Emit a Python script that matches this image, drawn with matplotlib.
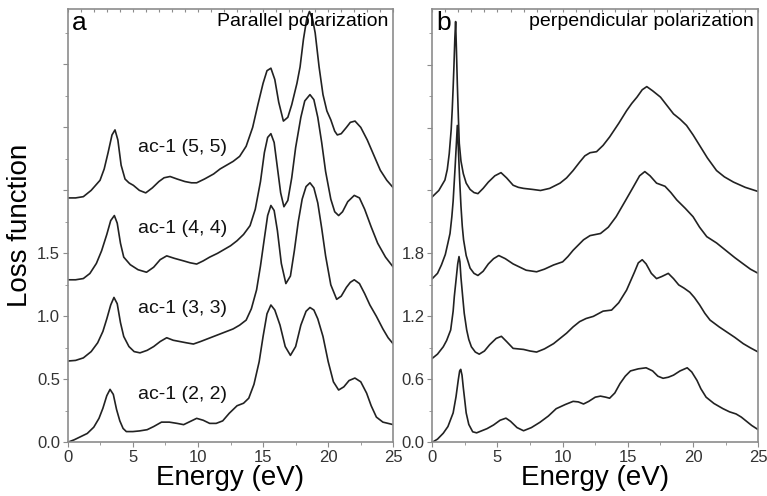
import matplotlib
matplotlib.use("Agg")
import matplotlib.pyplot as plt
from matplotlib.ticker import MultipleLocator, FuncFormatter

plt.rcParams["font.family"] = ["Liberation Sans", "DejaVu Sans"]

# (energy eV, loss function) pairs; curves are already offset
# panel a: parallel polarization
par_22 = [(0, 0.0), (0.5, 0.02), (1.0, 0.045), (1.5, 0.07), (2.0, 0.12), (2.4, 0.19), (2.7, 0.27),
          (3.0, 0.37), (3.25, 0.42), (3.5, 0.38), (3.75, 0.26), (4.0, 0.17), (4.25, 0.11),
          (4.5, 0.085), (5.0, 0.085), (5.5, 0.09), (6.1, 0.10), (6.6, 0.125), (7.2, 0.16),
          (7.8, 0.16), (8.4, 0.15), (8.9, 0.14), (9.4, 0.165), (9.9, 0.19), (10.4, 0.175),
          (10.9, 0.15), (11.4, 0.15), (11.9, 0.17), (12.4, 0.23), (13.0, 0.29), (13.5, 0.31),
          (13.9, 0.35), (14.3, 0.46), (14.7, 0.64), (15.0, 0.84), (15.3, 1.02), (15.6, 1.09),
          (15.9, 1.05), (16.3, 0.93), (16.7, 0.76), (17.1, 0.69), (17.5, 0.76), (17.9, 0.93),
          (18.3, 1.04), (18.6, 1.07), (18.9, 1.05), (19.2, 0.98), (19.6, 0.84), (20.0, 0.64),
          (20.4, 0.48), (20.8, 0.415), (21.2, 0.44), (21.6, 0.49), (22.05, 0.51), (22.5, 0.48),
          (22.95, 0.39), (23.3, 0.29), (23.7, 0.2), (24.2, 0.16), (25, 0.14)]

par_33 = [(0, 0.645), (0.6, 0.65), (1.2, 0.67), (1.8, 0.72), (2.3, 0.79), (2.7, 0.88), (3.0, 0.98),
          (3.3, 1.09), (3.55, 1.15), (3.8, 1.10), (4.05, 0.95), (4.3, 0.84), (4.7, 0.76),
          (5.1, 0.72), (5.55, 0.71), (6.1, 0.73), (6.6, 0.76), (7.1, 0.80), (7.6, 0.83),
          (8.1, 0.81), (8.6, 0.80), (9.1, 0.79), (9.65, 0.78), (10.2, 0.80), (10.7, 0.82),
          (11.2, 0.84), (11.7, 0.86), (12.2, 0.88), (12.7, 0.90), (13.2, 0.93), (13.7, 0.97),
          (14.1, 1.06), (14.5, 1.21), (14.8, 1.40), (15.1, 1.62), (15.35, 1.80), (15.6, 1.88),
          (15.85, 1.84), (16.1, 1.68), (16.4, 1.42), (16.75, 1.26), (17.1, 1.32), (17.4, 1.52),
          (17.7, 1.75), (18.0, 1.93), (18.3, 2.03), (18.6, 2.06), (18.9, 2.02), (19.2, 1.90),
          (19.5, 1.70), (19.8, 1.48), (20.2, 1.25), (20.65, 1.135), (21.0, 1.16), (21.4, 1.23),
          (21.7, 1.27), (22.0, 1.29), (22.4, 1.26), (22.8, 1.18), (23.2, 1.09), (23.7, 1.00),
          (24.2, 0.90), (24.6, 0.83), (25, 0.78)]

par_44 = [(0, 1.29), (0.6, 1.29), (1.2, 1.30), (1.7, 1.34), (2.2, 1.42), (2.6, 1.52), (3.0, 1.65),
          (3.3, 1.76), (3.58, 1.80), (3.8, 1.74), (4.05, 1.58), (4.3, 1.47), (4.8, 1.41),
          (5.4, 1.37), (6.05, 1.35), (6.6, 1.39), (7.1, 1.45), (7.6, 1.48), (8.2, 1.46),
          (8.9, 1.44), (9.4, 1.425), (9.9, 1.415), (10.4, 1.44), (10.9, 1.47), (11.5, 1.50),
          (12.0, 1.53), (12.5, 1.56), (13.0, 1.60), (13.5, 1.65), (14.0, 1.72), (14.4, 1.85),
          (14.8, 2.07), (15.1, 2.30), (15.35, 2.42), (15.6, 2.45), (15.85, 2.38), (16.1, 2.18),
          (16.35, 1.98), (16.6, 1.87), (16.9, 1.92), (17.2, 2.10), (17.5, 2.34), (17.9, 2.58),
          (18.2, 2.71), (18.6, 2.76), (18.9, 2.72), (19.2, 2.58), (19.5, 2.38), (19.8, 2.15),
          (20.2, 1.93), (20.5, 1.83), (20.8, 1.80), (21.1, 1.83), (21.5, 1.91), (22.0, 1.96),
          (22.4, 1.94), (22.8, 1.85), (23.3, 1.71), (23.8, 1.58), (24.4, 1.47), (25, 1.39)]

par_55 = [(0, 1.94), (0.6, 1.94), (1.2, 1.95), (1.8, 2.00), (2.48, 2.08), (2.8, 2.17), (3.1, 2.30),
          (3.4, 2.44), (3.63, 2.48), (3.85, 2.40), (4.1, 2.20), (4.4, 2.09), (4.7, 2.06),
          (5.04, 2.04), (5.5, 2.00), (5.99, 1.98), (6.5, 2.02), (7.0, 2.07), (7.4, 2.10),
          (7.86, 2.11), (8.4, 2.09), (9.0, 2.07), (9.5, 2.06), (9.9, 2.06), (10.5, 2.09),
          (11.2, 2.13), (11.7, 2.17), (12.2, 2.20), (12.7, 2.23), (13.2, 2.27), (13.7, 2.35),
          (14.2, 2.50), (14.6, 2.68), (15.0, 2.85), (15.3, 2.95), (15.6, 2.97), (15.9, 2.88),
          (16.2, 2.70), (16.56, 2.55), (16.9, 2.58), (17.2, 2.68), (17.6, 2.85), (17.84, 2.98),
          (18.1, 3.20), (18.35, 3.36), (18.56, 3.42), (18.8, 3.36), (19.0, 3.25), (19.3, 2.98),
          (19.6, 2.76), (19.9, 2.63), (20.2, 2.56), (20.5, 2.47), (20.7, 2.44), (21.0, 2.45),
          (21.4, 2.50), (21.7, 2.54), (22.06, 2.55), (22.5, 2.50), (23.0, 2.40), (23.5, 2.28),
          (24.0, 2.16), (24.5, 2.08), (25, 2.02)]

# panel b: perpendicular polarization
per_22 = [(0, 0.0), (0.4, 0.03), (0.84, 0.086), (1.2, 0.15), (1.6, 0.28), (1.82, 0.434), (2.0, 0.6),
          (2.1, 0.68), (2.18, 0.695), (2.28, 0.64), (2.38, 0.52), (2.46, 0.434), (2.6, 0.28),
          (2.8, 0.17), (3.1, 0.10), (3.4, 0.09), (3.8, 0.11), (4.2, 0.13), (4.7, 0.165),
          (5.2, 0.21), (5.65, 0.23), (6.0, 0.2), (6.5, 0.14), (7.0, 0.11), (7.6, 0.14),
          (8.25, 0.19), (8.9, 0.25), (9.5, 0.32), (10.2, 0.36), (10.8, 0.39), (11.2, 0.385),
          (11.6, 0.365), (12.0, 0.39), (12.5, 0.43), (12.9, 0.44), (13.3, 0.43), (13.6, 0.42),
          (14.0, 0.47), (14.4, 0.56), (14.8, 0.63), (15.2, 0.68), (15.8, 0.70), (16.4, 0.71),
          (16.9, 0.68), (17.3, 0.63), (17.7, 0.61), (18.1, 0.62), (18.5, 0.64), (19.0, 0.68),
          (19.55, 0.71), (19.9, 0.67), (20.3, 0.59), (20.6, 0.51), (21.0, 0.43), (21.6, 0.37),
          (22.3, 0.32), (22.8, 0.29), (23.3, 0.27), (23.7, 0.24), (24.1, 0.2), (24.5, 0.16),
          (25, 0.12)]

per_33 = [(0, 0.80), (0.4, 0.84), (0.84, 0.91), (1.1, 0.97), (1.41, 1.07), (1.6, 1.25), (1.69, 1.39),
          (1.8, 1.52), (1.95, 1.70), (2.05, 1.77), (2.12, 1.72), (2.2, 1.57), (2.33, 1.39),
          (2.45, 1.23), (2.64, 1.07), (2.8, 0.98), (3.0, 0.91), (3.3, 0.86), (3.6, 0.84),
          (4.0, 0.87), (4.4, 0.93), (4.9, 0.99), (5.3, 1.01), (5.7, 0.96), (6.2, 0.895),
          (7.0, 0.885), (7.5, 0.87), (8.0, 0.86), (8.6, 0.89), (9.3, 0.94), (9.8, 0.99),
          (10.3, 1.04), (10.8, 1.10), (11.3, 1.15), (11.8, 1.18), (12.35, 1.20), (13.1, 1.25),
          (13.75, 1.26), (14.3, 1.33), (14.9, 1.45), (15.5, 1.62), (15.8, 1.71), (16.1, 1.74),
          (16.4, 1.70), (16.8, 1.61), (17.2, 1.56), (17.6, 1.58), (18.1, 1.61), (18.5, 1.56),
          (18.9, 1.50), (19.3, 1.47), (19.75, 1.43), (20.1, 1.38), (20.5, 1.31), (20.9, 1.23),
          (21.3, 1.165), (22.0, 1.10), (22.6, 1.05), (23.2, 1.00), (23.85, 0.94), (24.4, 0.90),
          (25, 0.86)]

per_44 = [(0, 1.56), (0.4, 1.61), (0.7, 1.69), (1.0, 1.79), (1.2, 1.90), (1.36, 1.99), (1.5, 2.15),
          (1.6, 2.3), (1.75, 2.62), (1.85, 2.85), (1.92, 3.02), (2.0, 2.80), (2.1, 2.50),
          (2.2, 2.25), (2.3, 2.06), (2.4, 1.93), (2.6, 1.78), (2.9, 1.66), (3.2, 1.61),
          (3.5, 1.59), (3.9, 1.63), (4.3, 1.70), (4.7, 1.75), (5.1, 1.78), (5.6, 1.75),
          (6.2, 1.70), (7.2, 1.64), (8.0, 1.625), (8.6, 1.65), (9.3, 1.69), (10.0, 1.72),
          (10.4, 1.77), (10.8, 1.83), (11.2, 1.88), (11.6, 1.93), (12.1, 1.97), (12.9, 1.99),
          (13.5, 2.05), (14.1, 2.15), (14.8, 2.30), (15.4, 2.43), (15.9, 2.54), (16.3, 2.58),
          (16.7, 2.54), (17.2, 2.47), (17.85, 2.44), (18.3, 2.38), (18.75, 2.31), (19.4, 2.23),
          (20.0, 2.15), (20.5, 2.05), (21.05, 1.96), (21.8, 1.90), (22.6, 1.82), (23.2, 1.76),
          (23.85, 1.70), (24.4, 1.65), (25, 1.61)]

per_55 = [(0, 2.34), (0.5, 2.40), (0.97, 2.50), (1.15, 2.60), (1.3, 2.75), (1.45, 2.98), (1.53, 3.17),
          (1.6, 3.38), (1.66, 3.58), (1.73, 3.85), (1.79, 4.01), (1.85, 3.75), (1.92, 3.42),
          (2.0, 3.10), (2.07, 2.85), (2.2, 2.68), (2.38, 2.56), (2.6, 2.47), (2.9, 2.41),
          (3.2, 2.38), (3.5, 2.37), (3.9, 2.42), (4.3, 2.48), (4.8, 2.54), (5.27, 2.57),
          (5.7, 2.52), (6.2, 2.45), (6.6, 2.43), (7.0, 2.42), (7.7, 2.41), (8.3, 2.40),
          (9.0, 2.42), (9.8, 2.47), (10.3, 2.52), (10.8, 2.59), (11.3, 2.67), (11.7, 2.73),
          (12.1, 2.76), (12.6, 2.77), (13.1, 2.83), (13.6, 2.91), (14.3, 3.04), (14.9, 3.16),
          (15.3, 3.23), (15.7, 3.29), (16.1, 3.36), (16.45, 3.39), (16.9, 3.35), (17.5, 3.29),
          (18.0, 3.21), (18.5, 3.13), (19.0, 3.08), (19.5, 3.02), (20.0, 2.93), (20.5, 2.83),
          (21.1, 2.71), (21.8, 2.59), (22.4, 2.53), (23.1, 2.48), (24.0, 2.43), (25, 2.39)]

curve_labels = ["ac-1 (2, 2)", "ac-1 (3, 3)", "ac-1 (4, 4)", "ac-1 (5, 5)"]
label_y = [0.38, 1.065, 1.70, 2.34]

LINE = "#222222"
SPINE = "#8c8c8c"
TXT = "#333333"


def style_axes(ax, ymax, ymajor, label_max):
    ax.set_xlim(0, 25)
    ax.set_ylim(0, ymax)
    for s in ax.spines.values():
        s.set_color(SPINE)
        s.set_linewidth(1.2)
    ax.xaxis.set_major_locator(MultipleLocator(5))
    ax.xaxis.set_minor_locator(MultipleLocator(2.5))
    ax.yaxis.set_major_locator(MultipleLocator(ymajor))
    ax.yaxis.set_minor_locator(MultipleLocator(ymajor / 2))
    ax.yaxis.set_major_formatter(FuncFormatter(
        lambda v, p: ("%.1f" % v) if v <= label_max + 1e-6 else ""))
    ax.tick_params(which="both", direction="out", color=SPINE, labelsize=12,
                   labelcolor=TXT, pad=2)
    ax.tick_params(which="major", length=3.5)
    ax.tick_params(which="minor", length=2)
    top = ax.secondary_xaxis("top")
    top.set_xticks(range(0, 26))
    top.tick_params(direction="in", length=2, color=SPINE, labeltop=False)
    top.spines["top"].set_visible(False)
    ax.set_xlabel("Energy (eV)", fontsize=20, labelpad=0)


def draw(ax, curve):
    e = [p[0] for p in curve]
    l = [p[1] for p in curve]
    ax.plot(e, l, color=LINE, lw=1.2, solid_joinstyle="round")


fig = plt.figure(figsize=(7.67, 4.96), dpi=100)
ax1 = fig.add_axes([0.0883, 0.1083, 0.4245, 0.8736])
ax2 = fig.add_axes([0.5636, 0.1083, 0.425, 0.8736])

for c in [par_22, par_33, par_44, par_55]:
    draw(ax1, c)
for c in [per_22, per_33, per_44, per_55]:
    draw(ax2, c)

style_axes(ax1, 3.44, 0.5, 1.5)
style_axes(ax2, 4.13, 0.6, 1.8)

ax1.set_ylabel("Loss function", fontsize=20, labelpad=3)

for txt, y in zip(curve_labels, label_y):
    ax1.text(5.4, y, txt, fontsize=14, color="#111111", va="center", ha="left")

ax1.text(0.012, 0.995, "a", transform=ax1.transAxes, fontsize=19, va="top", ha="left")
ax1.text(0.985, 0.99, "Parallel polarization", transform=ax1.transAxes, fontsize=14,
         va="top", ha="right")
ax2.text(0.012, 0.995, "b", transform=ax2.transAxes, fontsize=19, va="top", ha="left")
ax2.text(0.985, 0.99, "perpendicular polarization", transform=ax2.transAxes, fontsize=14,
         va="top", ha="right")

fig.savefig("out.png", dpi=100)
